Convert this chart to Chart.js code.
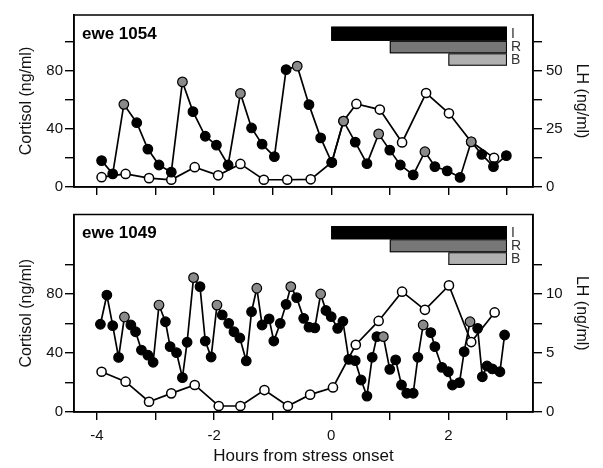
<!DOCTYPE html>
<html><head><meta charset="utf-8">
<script src="https://cdn.jsdelivr.net/npm/chart.js@4"></script>
<style>
body{margin:0;background:#fff;}
#c1{position:absolute;left:0;top:0;}
#c2{position:absolute;left:0;top:200px;}
</style>
</head><body>
<canvas id="c1" width="603" height="200"></canvas>
<canvas id="c2" width="603" height="268"></canvas>
<script>
// ---- tick definitions ----
const xTicks = [-4,-3,-2,-1,0,1,2,3];
const xTickLabels = ['-4','','-2','','0','','2',''];
const cortTicks = [0,20,40,60,80,100];
const cortTickLabels = ['0','','40','','80',''];
const lhTicks1054 = [0,12.5,25,37.5,50,62.5];
const lhTickLabels1054 = ['0','','25','','50',''];
const lhTicks1049 = [0,2.5,5,7.5,10,12.5];
const lhTickLabels1049 = ['0','','5','','10',''];

// ---- treatments (hours) ----
const treatmentNames = ['I','R','B'];
const treatmentStart = [0,1,2];
const treatmentEnd = [3,3,3];

// ---- ewe 1054 ----
const ewe1054CortHours = [-3.92,-3.73,-3.54,-3.32,-3.13,-2.94,-2.73,-2.54,-2.36,-2.15,-1.96,-1.76,-1.55,-1.36,-1.18,-0.97,-0.77,-0.58,-0.38,-0.18,0.01,0.21,0.41,0.61,0.81,1.00,1.18,1.40,1.60,1.77,1.98,2.20,2.39,2.57,2.77,2.99];
const ewe1054Cortisol = [18.1,9.0,56.7,44.1,26.0,15.1,10.2,72.1,51.7,34.8,28.7,15.1,64.2,40.5,29.4,20.8,80.5,82.9,56.5,33.7,16.8,45.2,30.8,16.0,36.4,25.3,15.1,8.3,24.2,14.0,11.1,6.6,31.0,22.4,14.0,21.5];
const ewe1054PulseIdx = [2,7,12,17,21,24,28,32];
const ewe1054LHHours = [-3.92,-3.51,-3.11,-2.73,-2.33,-1.93,-1.55,-1.15,-0.75,-0.35,0.01,0.21,0.43,0.83,1.21,1.62,2.01,2.39,2.78];
const ewe1054LH = [4.2,5.6,3.8,3.1,8.5,5.0,9.9,3.1,3.1,3.3,10.6,28.3,35.6,33.2,19.1,40.3,31.6,19.4,12.5];

// ---- ewe 1049 ----
const ewe1049CortHours = [-3.94,-3.83,-3.73,-3.63,-3.53,-3.42,-3.34,-3.24,-3.13,-3.04,-2.94,-2.83,-2.75,-2.64,-2.54,-2.46,-2.35,-2.24,-2.15,-2.05,-1.95,-1.86,-1.75,-1.66,-1.56,-1.45,-1.36,-1.27,-1.18,-1.06,-0.98,-0.87,-0.77,-0.69,-0.59,-0.47,-0.38,-0.28,-0.18,-0.09,0.00,0.11,0.20,0.30,0.41,0.51,0.61,0.70,0.78,0.89,1.00,1.10,1.20,1.29,1.40,1.48,1.57,1.70,1.77,1.89,2.00,2.07,2.19,2.27,2.37,2.50,2.58,2.66,2.75,2.88,2.96];
const ewe1049Cortisol = [59.5,79.3,58.5,37.0,64.4,59.0,54.4,42.0,38.6,33.7,72.5,61.2,44.3,40.2,23.3,47.3,91.1,85.0,48.1,37.3,72.5,65.8,60.1,54.4,50.2,34.6,68.0,83.9,59.0,63.1,48.1,60.1,73.0,85.0,77.5,63.5,57.5,57.0,80.0,68.8,64.6,56.7,61.5,35.7,34.8,21.7,10.8,37.1,51.1,51.1,28.9,35.3,18.3,12.7,12.7,37.1,59.0,53.8,44.3,30.3,27.3,18.3,19.9,40.9,61.2,56.7,23.9,31.2,29.2,27.3,52.2];
const ewe1049PulseIdx = [4,10,16,20,27,33,38,49,56,64];
const ewe1049LHHours = [-3.92,-3.51,-3.11,-2.73,-2.33,-1.92,-1.55,-1.14,-0.74,-0.36,0.03,0.42,0.81,1.21,1.60,2.01,2.39,2.79];
const ewe1049LH = [3.41,2.57,0.87,1.58,2.29,0.51,0.51,1.86,0.51,1.47,2.08,5.70,7.72,10.2,8.66,10.73,5.93,8.44];

Chart.defaults.font.family = "'Liberation Sans', Arial, sans-serif";
Chart.defaults.color = '#111';

const GRAY = '#8a8a8a';

function pts(xs, ys){ return xs.map((x,i)=>({x:x, y:ys[i]})); }

const decor = {
  id: 'decor',
  beforeDatasetsDraw(chart, args, o) {
    const ctx = chart.ctx, xs = chart.scales.x, ys = chart.scales.y;
    const fills = ['#000000','#777777','#b0b0b0'];
    ctx.save();
    for (let i = 0; i < treatmentNames.length; i++) {
      const x0 = xs.getPixelForValue(treatmentStart[i]);
      const x1 = xs.getPixelForValue(treatmentEnd[i]);
      const y0 = ys.getPixelForValue(o.levels[i]);
      const y1 = ys.getPixelForValue(o.levels[i+1]);
      ctx.fillStyle = fills[i];
      ctx.fillRect(x0, y0, x1-x0, y1-y0);
      ctx.strokeStyle = '#000'; ctx.lineWidth = 1;
      ctx.strokeRect(x0+0.5, y0+0.5, x1-x0-1, y1-y0-1);
      ctx.fillStyle = '#333';
      ctx.font = "14px 'Liberation Sans', Arial, sans-serif";
      ctx.textAlign = 'left'; ctx.textBaseline = 'middle';
      ctx.fillText(treatmentNames[i], x1 + 4, (y0+y1)/2 + 0.5);
    }
    const a = chart.chartArea;
    ctx.fillStyle = '#000';
    ctx.font = "bold 17px 'Liberation Sans', Arial, sans-serif";
    ctx.textAlign = 'left'; ctx.textBaseline = 'middle';
    ctx.fillText(o.label, a.left + 8, a.top + 19);
    ctx.restore();
  },
  afterDraw(chart) {
    const ctx = chart.ctx, a = chart.chartArea;
    ctx.save();
    ctx.strokeStyle = '#000'; ctx.lineWidth = 1.5;
    ctx.strokeRect(a.left, a.top, a.right - a.left, a.bottom - a.top);
    ctx.restore();
  }
};

function makeChart(id, cfg) {
  const colors = cfg.cortHours.map((h,i)=> cfg.pulseIdx.includes(i) ? GRAY : '#000');
  return new Chart(document.getElementById(id), {
    type: 'scatter',
    data: {
      datasets: [
        { label: 'Cortisol', data: pts(cfg.cortHours, cfg.cort), yAxisID: 'y', showLine: true,
          borderColor: '#000', borderWidth: 1.7, pointRadius: 4.8, pointBorderWidth: 1.2,
          pointBackgroundColor: colors, pointBorderColor: '#000', order: 0 },
        { label: 'LH', data: pts(cfg.lhHours, cfg.lh), yAxisID: 'y2', showLine: true,
          borderColor: '#000', borderWidth: 1.7, pointRadius: 4.6, pointBorderWidth: 1.5,
          pointBackgroundColor: '#fff', pointBorderColor: '#000', order: 1 }
      ]
    },
    options: {
      responsive: false, animation: false,
      layout: { padding: { top: cfg.padTop, left: 0, right: 0, bottom: 0 } },
      plugins: { legend: { display: false }, tooltip: { enabled: false },
                 decor: { label: cfg.label, levels: cfg.levels } },
      scales: {
        x: { type: 'linear', min: -4.391, max: 3.445,
             afterBuildTicks: s => { s.ticks = xTicks.map(v=>({value:v})); },
             afterFit: s => { s.height = cfg.xHeight; },
             ticks: { callback: (v,i) => cfg.showX ? xTickLabels[i] : '', padding: 7, maxRotation: 0, autoSkip: false,
                      font: { size: 15 }, color: '#111' },
             grid: { drawOnChartArea: false, drawTicks: true, tickLength: 8, color: '#000', lineWidth: 1.4 },
             border: { display: true, color: '#000', width: 1.6 },
             title: { display: cfg.showX, text: 'Hours from stress onset', font: { size: 17 }, color: '#111',
                      padding: { top: 0, bottom: 1 } } },
        y: { type: 'linear', position: 'left', min: 0, max: cfg.cortMax,
             afterBuildTicks: s => { s.ticks = cortTicks.map(v=>({value:v})); },
             afterFit: s => { s.width = 74; },
             ticks: { callback: (v,i) => cortTickLabels[i], padding: 2, autoSkip: false, font: { size: 15 }, color: '#111' },
             grid: { drawOnChartArea: false, drawTicks: true, tickLength: 9, color: '#000', lineWidth: 1.4 },
             border: { display: true, color: '#000', width: 1.6 },
             title: { display: true, text: 'Cortisol (ng/ml)', font: { size: 16 }, color: '#111', padding: { top: 17, bottom: 0 } } },
        y2: { type: 'linear', position: 'right', min: 0, max: cfg.lhMax,
             afterBuildTicks: s => { s.ticks = cfg.lhTicks.map(v=>({value:v})); },
             afterFit: s => { s.width = 70; },
             ticks: { callback: (v,i) => cfg.lhLabels[i], padding: 4, autoSkip: false, font: { size: 15 }, color: '#111' },
             grid: { drawOnChartArea: false, drawTicks: true, tickLength: 9, color: '#000', lineWidth: 1.4 },
             border: { display: true, color: '#000', width: 1.6 },
             title: { display: true, text: 'LH (ng/ml)', font: { size: 16 }, color: '#111', padding: { top: 12, bottom: 0 } } }
      }
    },
    plugins: [decor]
  });
}

makeChart('c1', {
  label: 'ewe 1054', cortHours: ewe1054CortHours, cort: ewe1054Cortisol, pulseIdx: ewe1054PulseIdx,
  lhHours: ewe1054LHHours, lh: ewe1054LH, cortMax: 118, lhMax: 73.75,
  lhTicks: lhTicks1054, lhLabels: lhTickLabels1054, levels: [110, 100.3, 91.7, 83.2],
  padTop: 15, xHeight: 11, showX: false
});
makeChart('c2', {
  label: 'ewe 1049', cortHours: ewe1049CortHours, cort: ewe1049Cortisol, pulseIdx: ewe1049PulseIdx,
  lhHours: ewe1049LHHours, lh: ewe1049LH, cortMax: 133.9, lhMax: 16.74,
  lhTicks: lhTicks1049, lhLabels: lhTickLabels1049, levels: [126.1, 117.1, 108.3, 99.7],
  padTop: 14.5, xHeight: 56, showX: true
});
</script>
</body></html>
